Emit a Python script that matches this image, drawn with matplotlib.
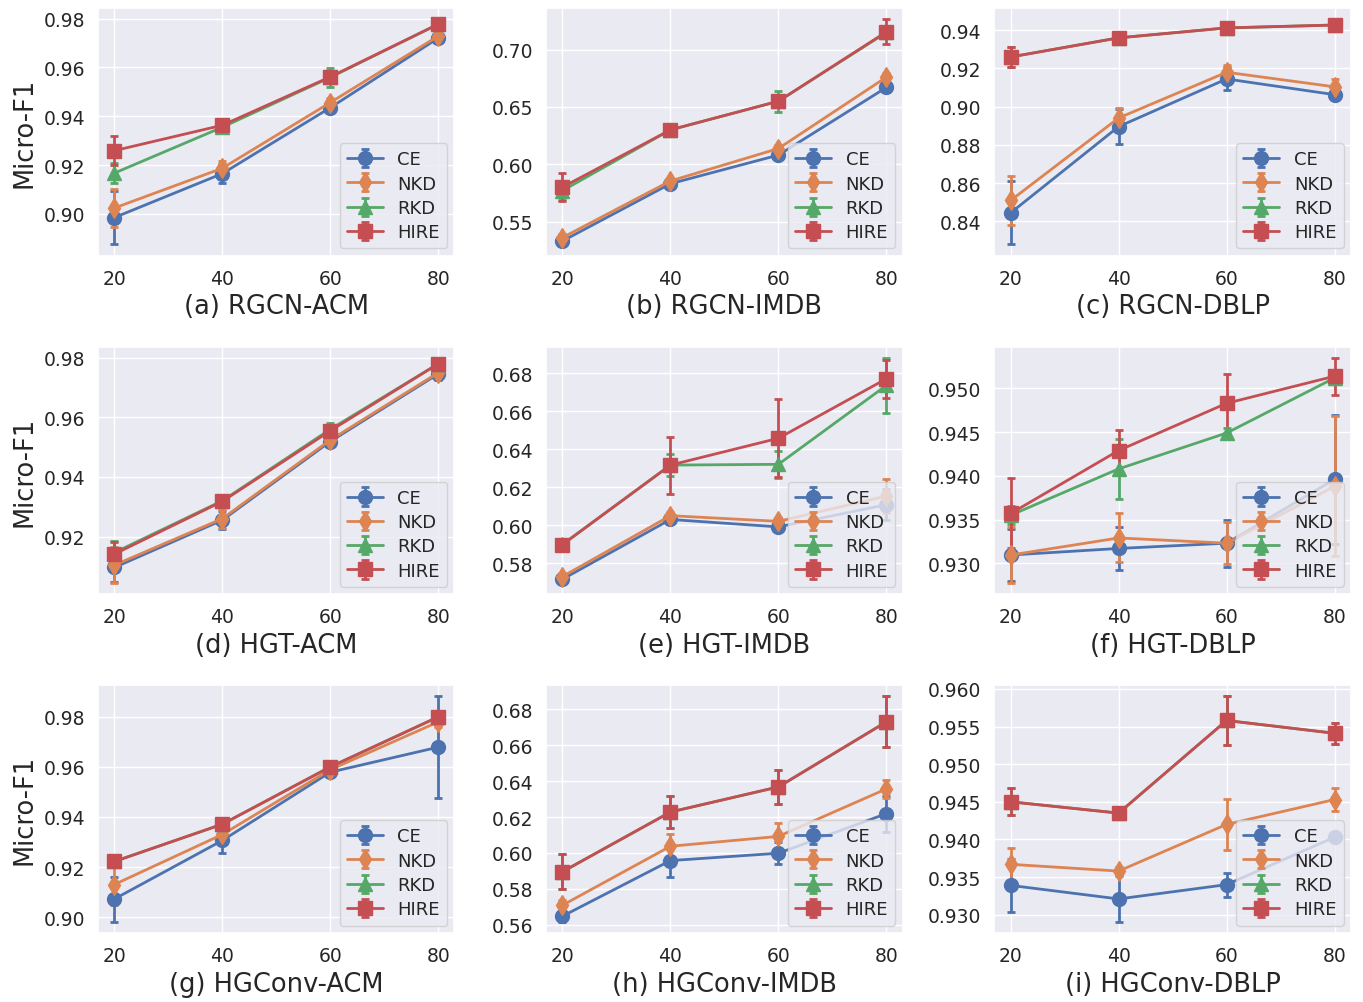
import matplotlib
matplotlib.use("Agg")
import matplotlib.pyplot as plt
from matplotlib.ticker import MultipleLocator
import seaborn as sns

sns.set_theme(style="darkgrid")
plt.rcParams['font.family'] = ['DejaVu Sans']

ratios = [20, 40, 60, 80]
titles = ['(a) RGCN-ACM', '(b) RGCN-IMDB', '(c) RGCN-DBLP',
          '(d) HGT-ACM', '(e) HGT-IMDB', '(f) HGT-DBLP',
          '(g) HGConv-ACM', '(h) HGConv-IMDB', '(i) HGConv-DBLP']
methods = ['CE', 'NKD', 'RKD', 'HIRE']
ytick_steps = [0.02, 0.05, 0.02, 0.02, 0.02, 0.005, 0.02, 0.02, 0.005]

# mean Micro-F1 per panel (a..i), one row per panel
ce_mean = [[0.8985, 0.9165, 0.9435, 0.972],
           [0.533, 0.583, 0.608, 0.667],
           [0.8445, 0.8896, 0.9145, 0.9063],
           [0.9096, 0.9255, 0.9519, 0.9746],
           [0.5716, 0.603, 0.5991, 0.6108],
           [0.93095, 0.9317, 0.9323, 0.9396],
           [0.9072, 0.9306, 0.9579, 0.9679],
           [0.5647, 0.5957, 0.5998, 0.6219],
           [0.9339, 0.9321, 0.934, 0.9403]]
ce_err = [[0.011, 0.004, 0.002, 0.002],
          [0.003, 0.003, 0.003, 0.003],
          [0.0165, 0.009, 0.006, 0.002],
          [0.005, 0.003, 0.002, 0.002],
          [0.002, 0.002, 0.002, 0.008],
          [0.003, 0.0025, 0.0027, 0.0074],
          [0.009, 0.005, 0.002, 0.0203],
          [0.003, 0.009, 0.006, 0.01],
          [0.0035, 0.003, 0.0016, 0.0004]]

nkd_mean = [[0.9024, 0.9187, 0.9456, 0.9728],
            [0.536, 0.5854, 0.6137, 0.676],
            [0.851, 0.8941, 0.918, 0.9104],
            [0.9104, 0.926, 0.9524, 0.975],
            [0.573, 0.605, 0.602, 0.6153],
            [0.93095, 0.9329, 0.9323, 0.9388],
            [0.913, 0.933, 0.9589, 0.978],
            [0.5708, 0.6037, 0.6092, 0.6357],
            [0.9367, 0.9358, 0.942, 0.9453]]
nkd_err = [[0.0077, 0.003, 0.002, 0.002],
           [0.003, 0.003, 0.003, 0.004],
           [0.013, 0.005, 0.004, 0.004],
           [0.006, 0.003, 0.002, 0.002],
           [0.002, 0.002, 0.002, 0.009],
           [0.0032, 0.0028, 0.0024, 0.008],
           [0.008, 0.003, 0.002, 0.002],
           [0.003, 0.007, 0.0075, 0.005],
           [0.0022, 0.0005, 0.0034, 0.0015]]

rkd_mean = [[0.9167, 0.9355, 0.9559, 0.9777],
            [0.577, 0.630, 0.655, 0.715],
            [0.926, 0.936, 0.9412, 0.9427],
            [0.9146, 0.932, 0.956, 0.978],
            [0.5899, 0.6316, 0.632, 0.6735],
            [0.9355, 0.9408, 0.9449, 0.9512],
            [0.9222, 0.9371, 0.96, 0.98],
            [0.5895, 0.6228, 0.6368, 0.6731],
            [0.945, 0.9435, 0.9558, 0.9541]]
rkd_err = [[0.004, 0.002, 0.004, 0.002],
           [0.008, 0.003, 0.009, 0.004],
           [0.005, 0.002, 0.002, 0.003],
           [0.004, 0.002, 0.002, 0.002],
           [0.002, 0.006, 0.007, 0.0145],
           [0.001, 0.0034, 0.0006, 0.0006],
           [0.002, 0.002, 0.002, 0.002],
           [0.0097, 0.009, 0.0096, 0.0142],
           [0.0018, 0.0004, 0.0032, 0.0014]]

hire_mean = [[0.9259, 0.9363, 0.9561, 0.9777],
             [0.580, 0.630, 0.655, 0.7155],
             [0.926, 0.936, 0.9412, 0.9427],
             [0.9141, 0.9318, 0.9555, 0.978],
             [0.5898, 0.6316, 0.6457, 0.677],
             [0.9357, 0.9429, 0.9483, 0.9514],
             [0.9222, 0.9371, 0.96, 0.98],
             [0.5895, 0.6228, 0.6368, 0.6731],
             [0.945, 0.9435, 0.9558, 0.9541]]
hire_err = [[0.006, 0.002, 0.002, 0.002],
            [0.012, 0.003, 0.004, 0.011],
            [0.005, 0.002, 0.002, 0.003],
            [0.004, 0.002, 0.002, 0.002],
            [0.002, 0.015, 0.0205, 0.01],
            [0.004, 0.0024, 0.0034, 0.0021],
            [0.002, 0.002, 0.002, 0.002],
            [0.0097, 0.009, 0.0096, 0.0142],
            [0.0018, 0.0004, 0.0032, 0.0014]]

means = [ce_mean, nkd_mean, rkd_mean, hire_mean]
errs = [ce_err, nkd_err, rkd_err, hire_err]
markers = ['o', 'd', '^', 's']
msizes = [10, 10, 10, 10]
colors = sns.color_palette('deep')[:4]

fig, axes = plt.subplots(3, 3, figsize=(13.63, 10.03), dpi=100)
fig.subplots_adjust(left=0.072, right=0.991, top=0.991, bottom=0.069,
                    wspace=0.258, hspace=0.367)

for i, ax in enumerate(axes.flat):
    for m in range(4):
        ax.errorbar(ratios, means[m][i], yerr=errs[m][i], label=methods[m],
                    color=colors[m], marker=markers[m], markersize=msizes[m],
                    linewidth=2, elinewidth=2, capsize=3, capthick=2)
    ax.set_xticks(ratios)
    ax.yaxis.set_major_locator(MultipleLocator(ytick_steps[i]))
    ax.tick_params(labelsize=13.5)
    ax.set_xlabel(titles[i], fontsize=18.5)
    if i % 3 == 0:
        ax.set_ylabel('Micro-F1', fontsize=18.5)
    ax.legend(loc='lower right', fontsize=13, framealpha=0.8,
              labelspacing=0.35, borderaxespad=0.4)

fig.savefig('out.png', dpi=100)
